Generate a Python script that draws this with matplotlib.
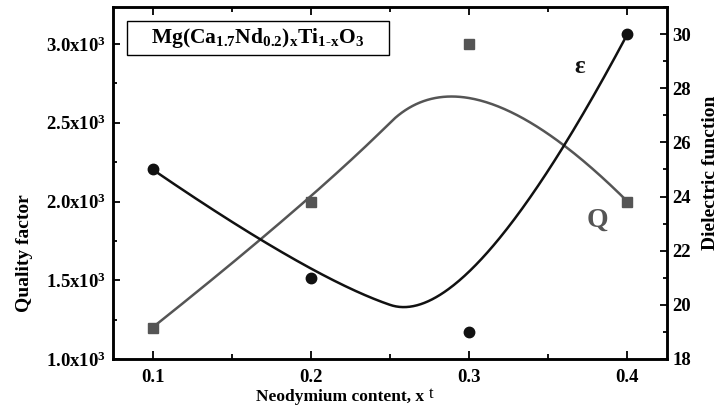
import numpy as np
import matplotlib
matplotlib.use("Agg")
import matplotlib.pyplot as plt
from matplotlib.ticker import MultipleLocator, FixedLocator
from matplotlib.patches import Rectangle

plt.rcParams['font.family'] = ['Liberation Serif', 'DejaVu Serif']
plt.rcParams['font.weight'] = 'bold'
plt.rcParams['mathtext.fontset'] = 'custom'
plt.rcParams['mathtext.rm'] = 'Liberation Serif:bold'
plt.rcParams['mathtext.it'] = 'Liberation Serif:bold'
plt.rcParams['mathtext.bf'] = 'Liberation Serif:bold'

# data
x_content = [0.1, 0.2, 0.3, 0.4]
quality_factor = [1200, 2000, 3000, 2000]
dielectric = [25, 21, 19, 30]
q_ticks = [1000, 1500, 2000, 2500, 3000]
q_ticklabels = [r"1.0x10$^{3}$", r"1.5x10$^{3}$", r"2.0x10$^{3}$",
                r"2.5x10$^{3}$", r"3.0x10$^{3}$"]
eps_ticks = [18, 20, 22, 24, 26, 28, 30]
x_ticks = [0.1, 0.2, 0.3, 0.4]


def bspline(xs, ys, k=2, num=400):
    """Clamped uniform B-spline using the data points as control points."""
    P = np.column_stack([xs, ys]).astype(float)
    n = len(P)
    inner = np.linspace(0, 1, n - k + 1)
    knots = np.concatenate([np.zeros(k), inner, np.ones(k)])
    t = np.linspace(0, 1, num)

    def N(i, d, tt):
        if d == 0:
            res = ((knots[i] <= tt) & (tt < knots[i + 1])).astype(float)
            if knots[i + 1] == 1.0 and knots[i] < 1.0:
                res[tt == 1.0] = 1.0
            return res
        a = np.zeros_like(tt)
        b = np.zeros_like(tt)
        if knots[i + d] != knots[i]:
            a = (tt - knots[i]) / (knots[i + d] - knots[i]) * N(i, d - 1, tt)
        if knots[i + d + 1] != knots[i + 1]:
            b = (knots[i + d + 1] - tt) / (knots[i + d + 1] - knots[i + 1]) * N(i + 1, d - 1, tt)
        return a + b

    B = np.array([N(i, k, t) for i in range(n)])
    C = B.T @ P
    return C[:, 0], C[:, 1]


fig = plt.figure(figsize=(7.2, 4.09), dpi=100)
ax = fig.add_axes([113 / 720, (409 - 359) / 409, 554 / 720, 352 / 409])
ax2 = ax.twinx()

gray = '#555555'
blk = '#111111'

qx, qy = bspline(x_content, quality_factor)
ax.plot(qx, qy, color=gray, lw=1.8, zorder=3)
ax.plot(x_content, quality_factor, 's', color=gray, ms=6.8, zorder=4)

ex, ey = bspline(x_content, dielectric)
ax2.plot(ex, ey, color=blk, lw=1.8, zorder=3)
ax2.plot(x_content, dielectric, 'o', color=blk, ms=7.5, zorder=4)

ax.set_xlim(0.075, 0.425)
ax.set_ylim(1000, 3235)
ax2.set_ylim(18, 31)

ax.xaxis.set_major_locator(FixedLocator(x_ticks))
ax.xaxis.set_minor_locator(MultipleLocator(0.05))
ax.set_xticklabels([f"{v:.1f}" for v in x_ticks])
ax.yaxis.set_major_locator(FixedLocator(q_ticks))
ax.yaxis.set_minor_locator(MultipleLocator(250))
ax.set_yticklabels(q_ticklabels)
ax2.yaxis.set_major_locator(FixedLocator(eps_ticks))
ax2.yaxis.set_minor_locator(MultipleLocator(1))
ax2.set_yticklabels([str(v) for v in eps_ticks])

for a in (ax, ax2):
    for s in a.spines.values():
        s.set_linewidth(1.8)
        s.set_color('black')

ax.tick_params(axis='both', which='both', direction='in', width=1.3)
ax.tick_params(axis='x', which='both', top=True, labelsize=13.5)
ax.tick_params(axis='x', which='major', length=6, pad=7)
ax.tick_params(axis='x', which='minor', length=3.5)
ax.tick_params(axis='y', which='major', length=5, pad=5, labelsize=13.5)
ax.tick_params(axis='y', which='minor', length=3)
ax2.tick_params(axis='y', which='both', direction='in', width=1.3, labelsize=13.5)
ax2.tick_params(axis='y', which='major', length=5, pad=4)
ax2.tick_params(axis='y', which='minor', length=3)

ax.set_xlabel("Neodymium content, x", fontsize=12.5, fontweight='bold')
ax.xaxis.set_label_coords(0.41, -0.108)
ax.xaxis.label.set_va('center')
ax.set_ylabel("Quality factor", fontsize=14, fontweight='bold')
ax.yaxis.set_label_coords(-0.159, 0.30)
ax.yaxis.label.set_va('center')
ax2.set_ylabel("Dielectric function", fontsize=14, fontweight='bold')
ax2.yaxis.set_label_coords(1.079, 0.53)
ax2.yaxis.label.set_va('center')

fig.text(429 / 720, 1 - 394 / 409, "t", fontsize=12, fontweight='normal',
         ha='left', va='center')

ax.text(0.381, 1879, "Q", color=gray, fontsize=20, fontweight='bold',
        ha='center', va='center')
ax2.text(0.37, 28.8, "ε", color=blk, fontsize=18, fontweight='bold',
         ha='center', va='center')

fig.patches.append(Rectangle((127 / 720, 1 - 55 / 409), 262 / 720, 34 / 409,
                             transform=fig.transFigure, fc='white', ec='black',
                             lw=1.0, zorder=9))
fig.text(258 / 720, 1 - 38 / 409,
         r"$\mathrm{Mg(Ca_{1.7}Nd_{0.2})_{x}Ti_{1\text{-}x}O_{3}}$",
         fontsize=15.5, ha='center', va='center', zorder=10)

fig.savefig("out.png", dpi=100)
